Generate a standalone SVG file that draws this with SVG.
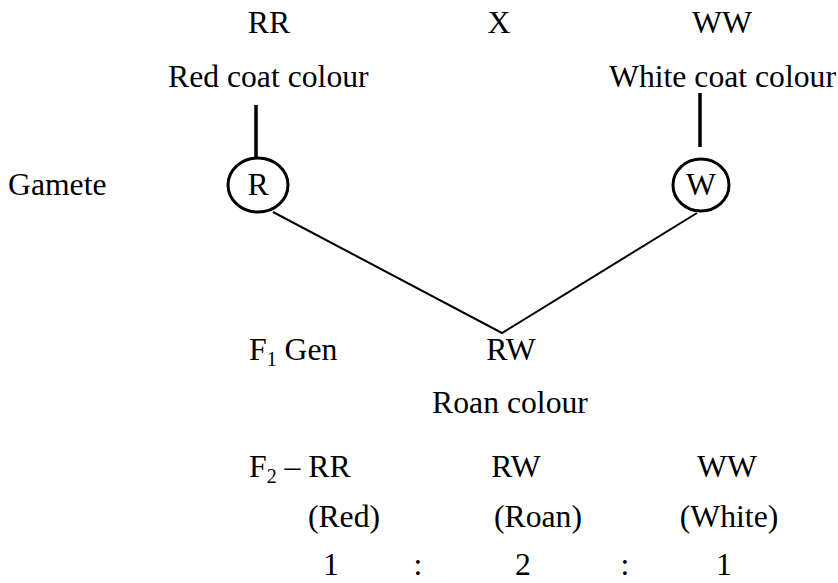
<svg xmlns="http://www.w3.org/2000/svg" width="838" height="583" viewBox="0 0 838 583" font-family="'Liberation Serif', 'DejaVu Serif', 'Times New Roman', serif">
<style>
text{font-family:"Liberation Serif","DejaVu Serif","Times New Roman",serif;font-size:31.7px;fill:#000}
.m{text-anchor:middle}
.sub{font-size:20px}
.c{fill:none;stroke:#000;stroke-width:3}
.l{fill:none;stroke:#000;stroke-width:2}
.v{fill:none;stroke:#000;stroke-width:3.5}
</style>
<rect width="838" height="583" fill="#fff"/>
<g id="header">
<text class="m" x="269" y="33">RR</text>
<text class="m" x="499" y="33">X</text>
<text class="m" x="722" y="33">WW</text>
</g>
<g id="parent-red"><text x="168" y="87">Red coat colour</text></g>
<g id="parent-white"><text x="609" y="87">White coat colour</text></g>
<g id="gamete-label"><text x="8" y="195">Gamete</text></g>
<g id="gamete-R"><ellipse class="c" cx="258" cy="185" rx="30" ry="27"/><text class="m" x="258" y="195">R</text></g>
<g id="gamete-W"><ellipse class="c" cx="701" cy="185" rx="28" ry="26"/><text class="m" x="701" y="195">W</text></g>
<g id="f1-label"><text x="249" y="360">F<tspan class="sub" dy="6">1</tspan><tspan dy="-6"> Gen</tspan></text></g>
<g id="f1"><text class="m" x="511" y="360">RW</text><text class="m" x="510" y="413">Roan colour</text></g>
<g id="f2">
<text x="249" y="477">F<tspan class="sub" dy="6">2</tspan><tspan dy="-6"> – RR</tspan></text>
<text class="m" x="516" y="477">RW</text>
<text class="m" x="727" y="477">WW</text>
<text class="m" x="344" y="527">(Red)</text>
<text class="m" x="538" y="527">(Roan)</text>
<text class="m" x="729" y="527">(White)</text>
<text class="m" x="331" y="575">1</text>
<text class="m" x="418" y="575">:</text>
<text class="m" x="523" y="575">2</text>
<text class="m" x="625" y="575">:</text>
<text class="m" x="724" y="575">1</text>
</g>
<g id="connectors">
<line class="v" x1="256" y1="105" x2="256" y2="158"/>
<line class="v" x1="700" y1="93" x2="700" y2="147"/>
<polyline class="l" points="273,212 502,333 697,213"/>
</g>
</svg>
